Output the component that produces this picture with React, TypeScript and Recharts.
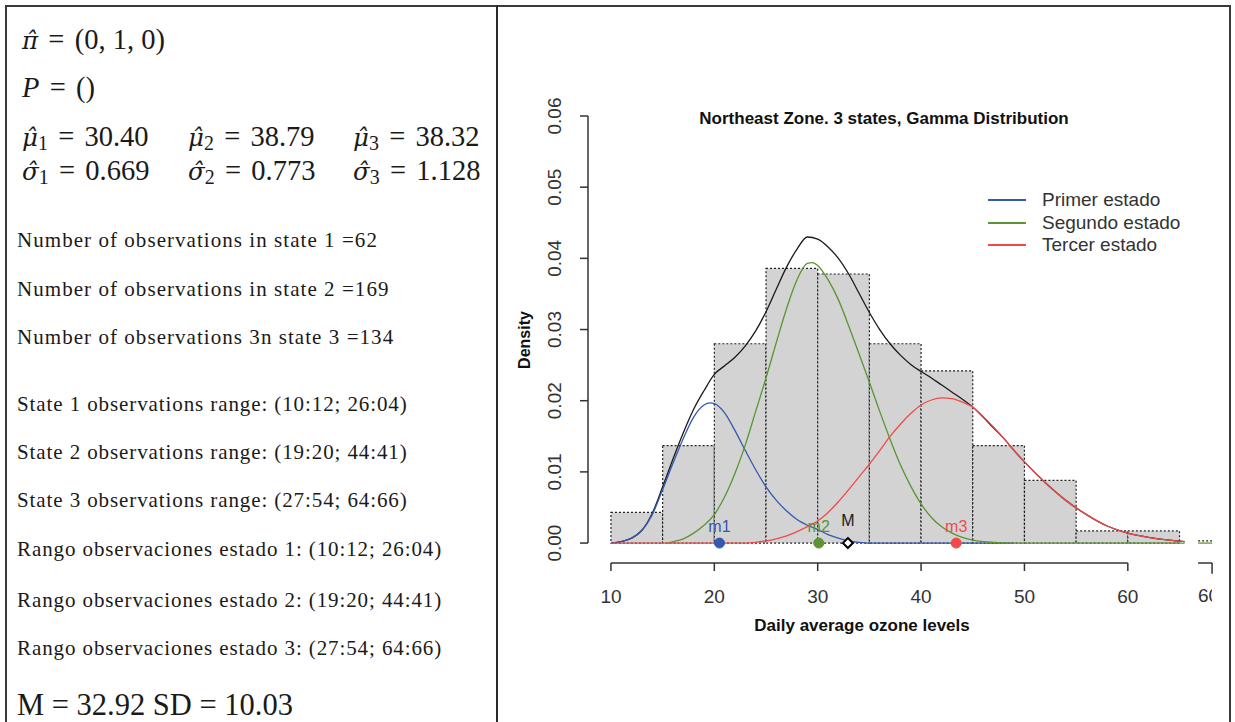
import React from "react";
import {
  ComposedChart,
  Line,
  XAxis,
  YAxis,
  ReferenceArea,
  ReferenceLine,
  ReferenceDot,
} from "recharts";

// histogram bins (width 5)
const binStarts = [10, 15, 20, 25, 30, 35, 40, 45, 50, 55, 60];
const binWidth = 5;
const binDensity = [0.0043, 0.0137, 0.028, 0.0386, 0.0378, 0.028, 0.0242, 0.0137, 0.0088, 0.0017, 0.0017];

// overall density (black)
const totalX = [10, 11, 12, 13, 14, 15, 16, 17, 18, 19, 20, 21, 22, 23, 24, 25, 26, 27, 28, 29, 30, 31, 32, 33, 34, 35, 36, 37, 38, 39, 40, 41, 42, 43, 44, 45, 46, 47, 48, 49, 50, 52, 54, 56, 58, 60, 62, 64, 65.5];
const totalY = [0, 0.0002, 0.0007, 0.0018, 0.0042, 0.0079, 0.0118, 0.0155, 0.0188, 0.0214, 0.0237, 0.0249, 0.0261, 0.0277, 0.0298, 0.0325, 0.0357, 0.0388, 0.0413, 0.043, 0.0427, 0.0416, 0.04, 0.0378, 0.0351, 0.0324, 0.03, 0.028, 0.0264, 0.0251, 0.0241, 0.0232, 0.0222, 0.0212, 0.0202, 0.0191, 0.0177, 0.0162, 0.0147, 0.013, 0.0114, 0.0085, 0.006, 0.004, 0.0024, 0.0014, 0.0008, 0.0004, 0.0002];

// state 1 (blue)
const state1X = [10, 11, 12, 13, 14, 15, 16, 17, 18, 19, 19.6, 20, 21, 22, 23, 24, 25, 26, 27, 28, 29, 30, 31, 32, 33, 34, 35, 49];
const state1Y = [0, 0.0002, 0.0007, 0.0018, 0.004, 0.0075, 0.0112, 0.0147, 0.0177, 0.0194, 0.0197, 0.0196, 0.0183, 0.0158, 0.013, 0.0103, 0.0079, 0.006, 0.0045, 0.0033, 0.0025, 0.0019, 0.0012, 0.0007, 0.0003, 0.0001, 0, 0];

// state 2 (green)
const state2X = [15.5, 16, 17, 18, 19, 20, 21, 22, 23, 24, 25, 26, 27, 28, 29, 29.5, 30, 31, 32, 33, 34, 35, 36, 37, 38, 39, 40, 41, 42, 43, 44, 45, 46, 47, 49, 65.5];
const state2Y = [0, 0.0002, 0.0006, 0.0014, 0.0025, 0.004, 0.0065, 0.0098, 0.0138, 0.0185, 0.0232, 0.0282, 0.033, 0.037, 0.0393, 0.0394, 0.039, 0.037, 0.0342, 0.0305, 0.0266, 0.0226, 0.0185, 0.0146, 0.011, 0.008, 0.0055, 0.0036, 0.0023, 0.0014, 0.0008, 0.0004, 0.0002, 0.0001, 0, 0];

// state 3 (red)
const state3X = [10, 23, 24, 25, 26, 27, 28, 29, 30, 31, 32, 33, 34, 35, 36, 37, 38, 39, 40, 41, 42, 43, 44, 45, 46, 47, 48, 49, 50, 52, 54, 56, 58, 60, 62, 64, 65.5];
const state3Y = [0, 0, 0.0001, 0.0003, 0.0006, 0.001, 0.0016, 0.0023, 0.0031, 0.0043, 0.0058, 0.0075, 0.0093, 0.0111, 0.013, 0.015, 0.0167, 0.0182, 0.0194, 0.0201, 0.0204, 0.0203, 0.0198, 0.0191, 0.0178, 0.0163, 0.0147, 0.013, 0.0114, 0.0085, 0.006, 0.004, 0.0024, 0.0014, 0.0008, 0.0004, 0.0002];

const markerLabels = ["m1", "m2", "M", "m3"];
const markerX = [20.5, 30.1, 32.92, 43.4];

const xTicks = [10, 20, 30, 40, 50, 60];
const yTicks = [0, 0.01, 0.02, 0.03, 0.04, 0.05, 0.06];
const legendLabels = ["Primer estado", "Segundo estado", "Tercer estado"];

// leftover piece of a second axis at the right edge of the picture
const strayFrom = 66.8;
const strayTo = 68.15;
const strayLabel = "60";

const BLUE = "#3558b0";
const GREEN = "#5a9531";
const RED = "#f24a4a";
const BLACK = "#1a1a1a";
const stateColors = [BLUE, GREEN, RED];
const markerColors = [BLUE, GREEN, BLACK, RED];

const X_MIN = 7.78;
const X_MAX = 68.24;
const Y_MIN = -0.0028;
const TICK_DROP = 0.0015;

const toPoints = (xs: number[], ys: number[]) => xs.map((x, i) => ({ x, y: ys[i] }));
const totalData = toPoints(totalX, totalY);
const state1Data = toPoints(state1X, state1Y);
const state2Data = toPoints(state2X, state2Y);
const state3Data = toPoints(state3X, state3Y);

const serif = "'Liberation Serif', 'Times New Roman', serif";
const sans = "'Liberation Sans', Arial, sans-serif";

const XTick = (props: any) => {
  const { x, y, payload } = props;
  return (
    <text x={x} y={y + 23} textAnchor="middle" dominantBaseline="central" fontSize={19} fontFamily={sans} fill="#333">
      {payload.value}
    </text>
  );
};

const YTick = (props: any) => {
  const { x, y, payload } = props;
  return (
    <text
      transform={`translate(${x - 24},${y}) rotate(-90)`}
      textAnchor="middle"
      dominantBaseline="central"
      fontSize={19}
      fontFamily={sans}
      fill="#333"
    >
      {Number(payload.value).toFixed(2)}
    </text>
  );
};

const Diamond = (props: any) => {
  const { cx, cy } = props;
  return (
    <polygon
      points={`${cx},${cy - 5} ${cx + 5},${cy} ${cx},${cy + 5} ${cx - 5},${cy}`}
      fill="#fff"
      stroke="#000"
      strokeWidth={2}
    />
  );
};

// hatted greek letter, one text run with a combining circumflex
const hat = (ch: string) => (
  <i style={{ fontFamily: "'DejaVu Serif', serif", fontSize: "0.86em" }}>{ch + "\u0302"}</i>
);

const Sub = ({ children }: { children: React.ReactNode }) => (
  <span style={{ fontSize: "0.7em", verticalAlign: "-0.22em" }}>{children}</span>
);

const Eq = () => <span style={{ margin: "0 0.36em" }}>=</span>;

const muValues = ["30.40", "38.79", "38.32"];
const sigmaValues = ["0.669", "0.773", "1.128"];
const mathCols = [22, 188, 353];
const MATH_SIZE = 28.5;

const countLines = [
  "Number of observations in state 1 =62",
  "Number of observations in state 2 =169",
  "Number of observations 3n state 3 =134",
];
const countY = [240, 289, 337];
const rangeLines = [
  "State 1 observations range: (10:12; 26:04)",
  "State 2 observations range: (19:20; 44:41)",
  "State 3 observations range: (27:54; 64:66)",
  "Rango observaciones estado 1: (10:12; 26:04)",
  "Rango observaciones estado 2: (19:20; 44:41)",
  "Rango observaciones estado 3: (27:54; 64:66)",
];
const rangeY = [404, 452, 500, 549, 600, 648];

const textLine = (top: number, size: number, left: number): React.CSSProperties => ({
  position: "absolute",
  left,
  top: top - size / 2,
  fontSize: size,
  lineHeight: `${size}px`,
  fontFamily: serif,
  color: "#1a1a1a",
  whiteSpace: "nowrap",
});

export default function App() {
  return (
    <div style={{ position: "absolute", left: 0, top: 0, width: 1235, height: 722, overflow: "hidden", background: "#fff" }}>
      {/* frame */}
      <div style={{ position: "absolute", left: 5, top: 5, width: 1222, height: 740, border: "2px solid #3a3a3a" }} />
      <div style={{ position: "absolute", left: 496, top: 5, width: 2, height: 740, background: "#2a2a2a" }} />

      {/* left panel: estimates */}
      <div style={textLine(40, MATH_SIZE, 22)}>
        {hat("π")}
        <Eq />
        (0,&nbsp;1,&nbsp;0)
      </div>
      <div style={textLine(88, MATH_SIZE, 22)}>
        <i>P</i>
        <Eq />
        ()
      </div>
      {mathCols.map((left, i) => (
        <div key={"mu" + i} style={textLine(137, MATH_SIZE, left)}>
          {hat("μ")}
          <Sub>{i + 1}</Sub>
          <Eq />
          {muValues[i]}
        </div>
      ))}
      {mathCols.map((left, i) => (
        <div key={"sg" + i} style={textLine(171, MATH_SIZE, left)}>
          {hat("σ")}
          <Sub>{i + 1}</Sub>
          <Eq />
          {sigmaValues[i]}
        </div>
      ))}
      {countLines.map((t, i) => (
        <div key={"c" + i} style={{ ...textLine(countY[i], 21, 17), letterSpacing: 1.05 }}>
          {t}
        </div>
      ))}
      {rangeLines.map((t, i) => (
        <div key={"r" + i} style={{ ...textLine(rangeY[i], 21, 17), letterSpacing: 0.9 }}>
          {t}
        </div>
      ))}
      <div style={textLine(705, 30.5, 17)}>M = 32.92 SD = 10.03</div>

      {/* right panel: chart */}
      <div style={{ position: "absolute", left: 498, top: 8 }}>
        <ComposedChart width={730} height={700} margin={{ top: 108, right: 15, bottom: 85, left: 30 }}>
          <XAxis
            type="number"
            dataKey="x"
            domain={[X_MIN, X_MAX]}
            ticks={xTicks}
            allowDataOverflow
            axisLine={false}
            tickLine={{ stroke: "#333", strokeWidth: 1.5 }}
            tickSize={8}
            height={60}
            tick={<XTick />}
          />
          <YAxis
            type="number"
            domain={[Y_MIN, 0.06]}
            ticks={yTicks}
            allowDataOverflow
            axisLine={false}
            tickLine={{ stroke: "#333", strokeWidth: 1.5 }}
            tickSize={8}
            width={60}
            tick={<YTick />}
          />
          {binStarts.map((b, i) => (
            <ReferenceArea
              key={"bin" + i}
              x1={b}
              x2={b + binWidth}
              y1={0}
              y2={binDensity[i]}
              fill="#d3d3d3"
              fillOpacity={1}
              stroke="#222"
              strokeWidth={1.2}
              strokeDasharray="2 2"
            />
          ))}
          <ReferenceLine
            segment={[{ x: X_MIN, y: 0 }, { x: X_MIN, y: 0.06 }]}
            stroke="#333"
            strokeWidth={1.5}
          />
          <ReferenceLine
            segment={[{ x: 10, y: Y_MIN }, { x: 60, y: Y_MIN }]}
            stroke="#333"
            strokeWidth={1.5}
          />
          {/* stray leftover marks at the right edge */}
          <ReferenceLine
            segment={[{ x: strayFrom, y: 0.0003 }, { x: strayTo, y: 0.0003 }]}
            stroke="#222"
            strokeWidth={1.2}
            strokeDasharray="2 2"
          />
          <ReferenceLine
            segment={[{ x: strayFrom, y: 0 }, { x: strayTo, y: 0 }]}
            stroke={GREEN}
            strokeWidth={1.3}
          />
          <ReferenceLine
            segment={[{ x: strayFrom, y: Y_MIN }, { x: strayTo, y: Y_MIN }]}
            stroke="#333"
            strokeWidth={1.5}
          />
          <ReferenceLine
            segment={[{ x: strayTo, y: Y_MIN }, { x: strayTo, y: Y_MIN - TICK_DROP }]}
            stroke="#333"
            strokeWidth={1.5}
            ifOverflow="visible"
          />
          <Line data={totalData} dataKey="y" type="monotone" stroke={BLACK} strokeWidth={1.3} dot={false} isAnimationActive={false} />
          <Line data={state1Data} dataKey="y" type="monotone" stroke={BLUE} strokeWidth={1.3} dot={false} isAnimationActive={false} />
          <Line data={state2Data} dataKey="y" type="monotone" stroke={GREEN} strokeWidth={1.3} dot={false} isAnimationActive={false} />
          <Line data={state3Data} dataKey="y" type="monotone" stroke={RED} strokeWidth={1.3} dot={false} isAnimationActive={false} />
          {markerX.map((mx, i) => (
            <ReferenceDot
              key={"mk" + i}
              x={mx}
              y={0}
              r={5}
              fill={markerColors[i]}
              stroke={markerColors[i]}
              shape={markerLabels[i] === "M" ? <Diamond /> : undefined}
              label={{
                value: markerLabels[i],
                position: "top",
                offset: markerLabels[i] === "M" ? 12 : 6,
                fill: markerColors[i],
                fontSize: 16,
                fontFamily: sans,
              }}
            />
          ))}
        </ComposedChart>
      </div>

      {/* clipped tick label of the stray axis */}
      <div style={{ position: "absolute", left: 1198, top: 585, width: 14, overflow: "hidden", fontFamily: sans, fontSize: 19, lineHeight: "22px", color: "#333", whiteSpace: "nowrap" }}>
        {strayLabel}
      </div>

      {/* chart texts */}
      <div style={{ position: "absolute", left: 884, top: 119, transform: "translate(-50%,-50%)", fontFamily: sans, fontWeight: "bold", fontSize: 17, whiteSpace: "nowrap", color: "#111" }}>
        Northeast Zone. 3 states, Gamma Distribution
      </div>
      <div style={{ position: "absolute", left: 862, top: 626, transform: "translate(-50%,-50%)", fontFamily: sans, fontWeight: "bold", fontSize: 17, whiteSpace: "nowrap", color: "#111" }}>
        Daily average ozone levels
      </div>
      <div style={{ position: "absolute", left: 525, top: 340, transform: "translate(-50%,-50%) rotate(-90deg)", fontFamily: sans, fontWeight: "bold", fontSize: 16, whiteSpace: "nowrap", color: "#111" }}>
        Density
      </div>

      {/* legend */}
      <div style={{ position: "absolute", left: 988, top: 189 }}>
        {legendLabels.map((label, i) => (
          <div key={label} style={{ display: "flex", alignItems: "center", height: 22.5 }}>
            <svg width={38} height={4} style={{ marginRight: 16 }}>
              <line x1={0} y1={2} x2={38} y2={2} stroke={stateColors[i]} strokeWidth={2} />
            </svg>
            <span style={{ fontFamily: sans, fontSize: 19, color: "#333", lineHeight: "22px" }}>{label}</span>
          </div>
        ))}
      </div>
    </div>
  );
}
